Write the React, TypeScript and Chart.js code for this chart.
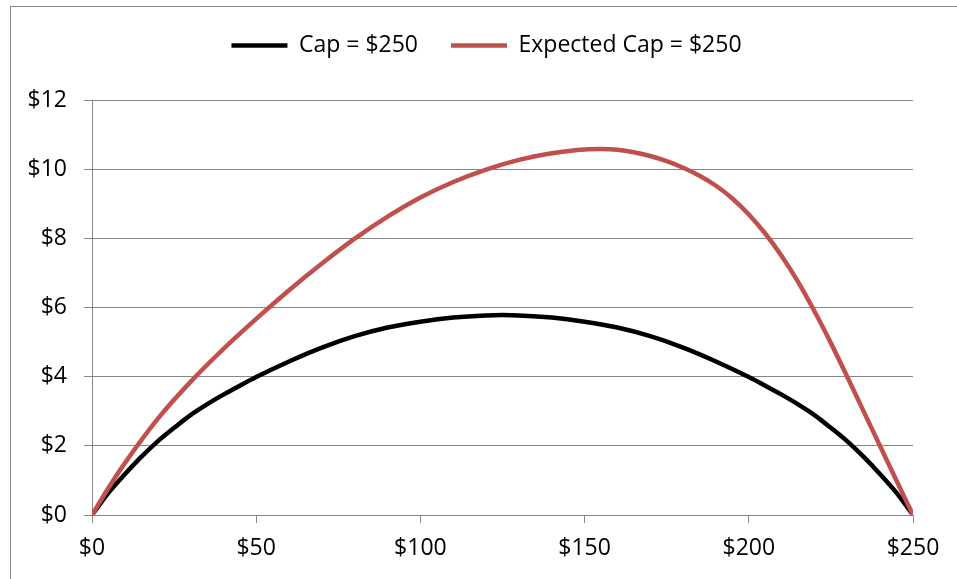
import React, { useEffect, useRef } from 'react';
import { Chart, registerables } from 'chart.js';

Chart.register(...registerables);

// Series: Cap = $250
const capX = [0, 5, 10, 15, 20, 25, 30, 35, 40, 45, 50, 60, 70, 80, 90, 100, 110, 120, 125, 130, 140, 150, 160, 170, 180, 190, 200, 205, 210, 215, 220, 225, 230, 235, 240, 245, 250];
const capY = [0, 0.64, 1.18, 1.68, 2.13, 2.52, 2.89, 3.2, 3.48, 3.74, 3.99, 4.44, 4.84, 5.17, 5.42, 5.59, 5.71, 5.77, 5.78, 5.77, 5.71, 5.59, 5.42, 5.17, 4.84, 4.44, 3.99, 3.74, 3.48, 3.2, 2.89, 2.52, 2.13, 1.68, 1.18, 0.64, 0];

// Series: Expected Cap = $250
const expX = [0, 5, 10, 20, 30, 40, 50, 60, 70, 80, 90, 100, 110, 120, 130, 140, 150, 155, 160, 165, 170, 175, 180, 185, 190, 195, 200, 205, 210, 215, 220, 225, 230, 235, 240, 245, 250];
const expY = [0, 0.78, 1.5, 2.78, 3.85, 4.8, 5.67, 6.5, 7.27, 7.99, 8.63, 9.18, 9.63, 9.99, 10.27, 10.46, 10.57, 10.58, 10.56, 10.49, 10.38, 10.23, 10.04, 9.81, 9.52, 9.15, 8.69, 8.14, 7.49, 6.74, 5.89, 4.97, 3.99, 2.99, 1.99, 0.99, 0];

const seriesLabels = ['Cap = $250', 'Expected Cap = $250'];
const xTicks = [0, 50, 100, 150, 200, 250];
const yTicks = [0, 2, 4, 6, 8, 10, 12];

const FONT = "'Open Sans', sans-serif";
const GRID = '#868686';

export default function App() {
  const ref = useRef<HTMLCanvasElement | null>(null);

  useEffect(() => {
    if (!ref.current) return;
    const legendTop = 1;
    const legendLeft = 60;
    const spacer = {
      id: 'legendSpacer',
      beforeLayout(chart: any) {
        const lg = chart.legend;
        if (lg && !lg._patched) {
          const orig = lg.fit;
          lg.fit = function () {
            orig.call(this);
            this.height = 100 - legendTop;
          };
          lg._patched = true;
        }
      },
      afterLayout(chart: any) {
        const lg = chart.legend;
        if (lg) {
          const r = lg.right;
          lg.left = legendLeft;
          lg.width = r - legendLeft;
        }
      },
    };
    const chart = new Chart(ref.current, {
      type: 'line',
      data: {
        datasets: [
          {
            label: seriesLabels[0],
            data: capX.map((x, i) => ({ x, y: capY[i] })),
            borderColor: '#000000',
            backgroundColor: '#000000',
            borderWidth: 4.5,
            borderCapStyle: 'round',
            pointRadius: 0,
            cubicInterpolationMode: 'monotone',
            order: 2,
          },
          {
            label: seriesLabels[1],
            data: expX.map((x, i) => ({ x, y: expY[i] })),
            borderColor: '#C0504D',
            backgroundColor: '#C0504D',
            borderWidth: 4.5,
            borderCapStyle: 'round',
            pointRadius: 0,
            cubicInterpolationMode: 'monotone',
            order: 1,
          },
        ],
      },
      options: {
        responsive: false,
        animation: false,
        layout: { padding: { left: 0, right: 44, top: legendTop, bottom: 4 } },
        plugins: {
          legend: {
            position: 'top',
            labels: {
              usePointStyle: true,
              pointStyle: 'line',
              pointStyleWidth: 56,
              padding: 33,
              color: '#000',
              font: { family: FONT, size: 23 },
              sort: (a: any, b: any) => a.datasetIndex - b.datasetIndex,
            },
          },
          tooltip: { enabled: false },
        },
        scales: {
          x: {
            type: 'linear',
            min: 0,
            max: 250,
            afterBuildTicks: (s: any) => {
              s.ticks = xTicks.map((v) => ({ value: v }));
            },
            afterFit: (s: any) => {
              s.height = 60;
            },
            grid: {
              drawOnChartArea: false,
              drawTicks: true,
              tickLength: 8,
              color: GRID,
              lineWidth: 1,
            },
            border: { display: true, color: GRID, width: 1 },
            ticks: {
              padding: 12,
              color: '#000',
              font: { family: FONT, size: 23 },
              maxRotation: 0,
              callback: (v: any) => '$' + v,
            },
          },
          y: {
            type: 'linear',
            min: 0,
            max: 12,
            afterBuildTicks: (s: any) => {
              s.ticks = yTicks.map((v) => ({ value: v }));
            },
            afterFit: (s: any) => {
              s.width = 92;
            },
            grid: {
              drawOnChartArea: true,
              drawTicks: true,
              tickLength: 8,
              color: GRID,
              lineWidth: 1,
            },
            border: { display: true, color: GRID, width: 1 },
            ticks: {
              padding: 17,
              color: '#000',
              font: { family: FONT, size: 23 },
              callback: (v: any) => '$' + v,
            },
          },
        },
      },
      plugins: [spacer],
    } as any);
    return () => chart.destroy();
  }, []);

  return (
    <div style={{ position: 'fixed', left: 0, top: 0, width: 957, height: 579, overflow: 'hidden', background: '#fff' }}>
      <div style={{ position: 'absolute', left: 10, top: 6, width: 1000, height: 700, border: '1px solid #868686', boxSizing: 'border-box' }} />
      <canvas ref={ref} width={957} height={579} style={{ position: 'absolute', left: 0, top: 0, width: 957, height: 579 }} />
    </div>
  );
}
